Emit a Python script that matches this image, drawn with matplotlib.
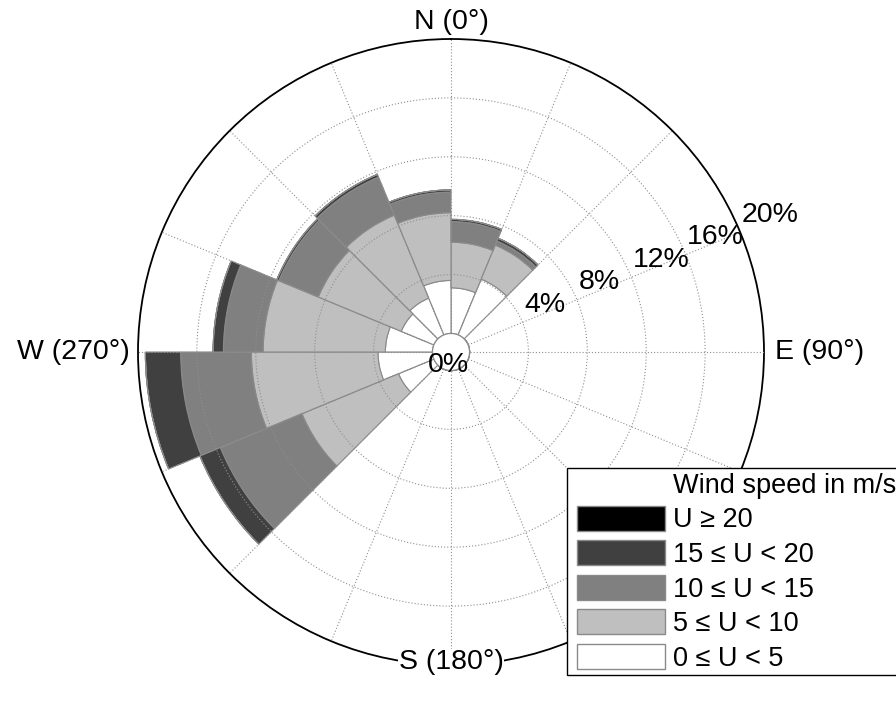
import numpy as np
import matplotlib.pyplot as plt
from matplotlib.patches import Patch, Rectangle
from matplotlib.legend_handler import HandlerPatch

plt.rcParams['font.family'] = ['Liberation Sans', 'DejaVu Sans']

# sector start angles (compass, clockwise from N), 22.5 deg wide
sectors = [0, 22.5, 45, 67.5, 90, 112.5, 135, 157.5,
           180, 202.5, 225, 247.5, 270, 292.5, 315, 337.5]

# frequency (%) of each speed class per sector, stacked outward
u_0_5   = [3.1, 4.1, 0, 0, 0, 0, 0, 0, 0, 0, 2.6, 3.7, 3.2, 2.4, 2.7, 3.6]
u_5_10  = [3.1, 2.5, 0, 0, 0, 0, 0, 0, 0, 0, 7.1, 8.6, 8.3, 6.1, 6.1, 4.6]
u_10_15 = [1.4, 0.3, 0, 0, 0, 0, 0, 0, 0, 0, 6.0, 4.8, 2.7, 2.9, 2.8, 1.4]
u_15_20 = [0.15, 0.2, 0, 0, 0, 0, 0, 0, 0, 0, 1.5, 2.4, 0.7, 0.15, 0.2, 0.15]
u_20    = [0, 0, 0, 0, 0, 0, 0, 0, 0, 0, 0, 0, 0, 0, 0, 0]

classes = [u_0_5, u_5_10, u_10_15, u_15_20, u_20]
class_labels = ['0 \u2264 U < 5', '5 \u2264 U < 10', '10 \u2264 U < 15',
                '15 \u2264 U < 20', 'U \u2265 20']
class_colors = ['#ffffff', '#bfbfbf', '#808080', '#404040', '#000000']

r_ticks = [0, 4, 8, 12, 16, 20]
dir_labels = {0: 'N (0\u00b0)', 90: 'E (90\u00b0)', 180: 'S (180\u00b0)', 270: 'W (270\u00b0)'}

fig = plt.figure(figsize=(8.96, 7.04), dpi=100)
ax = fig.add_axes([138/896, 39/704, 626/896, 626/704], projection='polar')
ax.set_theta_zero_location('N')
ax.set_theta_direction(-1)
ax.set_ylim(0, 20)
ax.set_rorigin(-1.26)

width = np.deg2rad(22.5)
theta = np.deg2rad(np.array(sectors) + 11.25)
bottom = np.zeros(len(sectors))
for vals, col in zip(classes, class_colors):
  vals = np.array(vals)
  ax.bar(theta, vals, width=width, bottom=bottom, color=col,
         edgecolor='#8a8a8a', linewidth=0.8, zorder=2)
  bottom += vals

ax.set_xticks(np.deg2rad(sectors))
ax.set_xticklabels([])
ax.set_yticks(r_ticks[1:-1])
ax.set_yticklabels([])
ax.grid(True, color='#8f8f8f', linestyle=(0, (1, 1.8)), linewidth=0.8)
ax.set_axisbelow(False)
for gl in ax.get_xgridlines() + ax.get_ygridlines():
  gl.set_zorder(3)
ax.spines['polar'].set_linewidth(1.3)
ax.spines['polar'].set_color('black')
ax.spines['inner'].set_color('#8a8a8a')
ax.spines['inner'].set_linewidth(0.9)

# radial labels along 67.5 deg
fs = 20.5
for r in r_ticks[1:]:
  ax.annotate('%d%%' % r, xy=(np.deg2rad(67.5), r), xytext=(1.0, 12.5),
              textcoords='offset points', ha='left', va='center', fontsize=fs, zorder=5)
ax.annotate('0%', xy=(0.5, 0.5), xycoords='axes fraction', xytext=(-2, -9),
            textcoords='offset points', ha='center', va='center', fontsize=fs, zorder=5)

# compass labels
ax.annotate(dir_labels[0], xy=(0, 20), xytext=(0, 3), textcoords='offset points',
            ha='center', va='bottom', fontsize=fs, annotation_clip=False)
ax.annotate(dir_labels[90], xy=(np.deg2rad(90), 20), xytext=(8, 0), textcoords='offset points',
            ha='left', va='center', fontsize=fs, annotation_clip=False)
ax.annotate(dir_labels[270], xy=(np.deg2rad(270), 20), xytext=(-6, 0), textcoords='offset points',
            ha='right', va='center', fontsize=fs, annotation_clip=False)
ax.annotate(dir_labels[180], xy=(np.deg2rad(180), 20), xytext=(0, 2), textcoords='offset points',
            ha='center', va='center', fontsize=fs, annotation_clip=False,
            bbox=dict(facecolor='white', edgecolor='none', pad=0.5), zorder=6)

def inset_rect(legend, orig_handle, xdescent, ydescent, width, height, fontsize):
  # leave a small gap between the frame and the colour box
  return Rectangle((-xdescent + 5, -ydescent), width - 5, height)

handles = [Patch(facecolor='none', edgecolor='none')]
labels = ['Wind speed in m/s']
for lab, col in zip(class_labels[::-1], class_colors[::-1]):
  handles.append(Patch(facecolor=col, edgecolor='#8a8a8a', linewidth=1))
  labels.append(lab)

leg = fig.legend(handles, labels, loc='lower left', bbox_to_anchor=(567/896, 29/704),
                 bbox_transform=fig.transFigure, fontsize=19.5, handlelength=3.5,
                 handleheight=1.05, handletextpad=0.28, labelspacing=0.25,
                 borderpad=0.12, borderaxespad=0, fancybox=False, framealpha=1,
                 handler_map={Patch: HandlerPatch(patch_func=inset_rect)})
leg.get_frame().set_edgecolor('black')
leg.get_frame().set_linewidth(1.0)

fig.savefig('out.png', dpi=100)
